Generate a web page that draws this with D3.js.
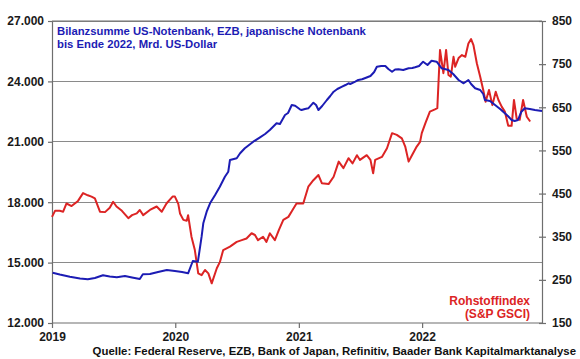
<!DOCTYPE html>
<html><head><meta charset="utf-8">
<script src="https://cdn.jsdelivr.net/npm/d3@7"></script>
<style>
html,body{margin:0;padding:0;background:#fff;}
svg text{font-family:"Liberation Sans",Arial,sans-serif;font-weight:bold;}
</style></head><body>
<svg id="chart" width="580" height="359"></svg>
<script>
// ---- Data ----
const balanceDates = ["2019-01-03","2019-01-24","2019-02-23","2019-03-25","2019-04-17","2019-05-08","2019-06-01","2019-06-21","2019-07-12","2019-08-05","2019-08-26","2019-09-18","2019-09-27","2019-10-18","2019-11-11","2019-12-07","2019-12-31","2020-01-21","2020-02-08","2020-02-22","2020-03-08","2020-03-19","2020-03-24","2020-04-03","2020-04-13","2020-04-28","2020-05-12","2020-05-27","2020-06-06","2020-06-11","2020-07-01","2020-07-11","2020-07-25","2020-08-19","2020-09-08","2020-09-23","2020-10-07","2020-10-27","2020-11-06","2020-11-21","2020-11-30","2020-12-11","2020-12-21","2021-01-04","2021-01-09","2021-01-19","2021-01-29","2021-02-13","2021-02-21","2021-02-28","2021-03-11","2021-03-25","2021-04-04","2021-04-14","2021-04-25","2021-05-09","2021-05-19","2021-05-28","2021-06-02","2021-06-17","2021-06-26","2021-07-07","2021-07-17","2021-08-01","2021-08-12","2021-08-20","2021-09-02","2021-09-14","2021-09-23","2021-10-04","2021-10-13","2021-10-23","2021-11-06","2021-11-22","2021-12-03","2021-12-11","2021-12-23","2022-01-04","2022-01-17","2022-01-29","2022-02-13","2022-02-28","2022-03-20","2022-04-03","2022-04-19","2022-05-04","2022-05-18","2022-05-26","2022-06-07","2022-06-22","2022-07-01","2022-07-06","2022-07-21","2022-08-05","2022-08-20","2022-09-03","2022-09-12","2022-09-23","2022-10-02","2022-10-12","2022-10-22","2022-11-01","2022-11-16","2022-12-01","2022-12-22"];
const balanceValues = [14498,14409,14300,14210,14171,14235,14369,14310,14270,14334,14260,14185,14419,14434,14533,14632,14583,14533,14469,15079,15045,16286,16952,17528,17945,18358,18770,19267,19515,20096,20181,20429,20677,21005,21224,21387,21586,21919,21884,22331,22430,22828,22793,22614,22579,22629,22664,22942,22828,22579,22778,23076,23275,23489,23623,23737,23821,23906,23871,23985,24070,24104,24169,24268,24467,24730,24765,24765,24616,24482,24591,24601,24566,24651,24666,24700,24765,24979,24815,25028,24979,24651,24566,24368,24070,23906,24070,23871,23657,23573,23374,23076,23027,22828,22629,22416,22281,22083,22033,22083,22495,22664,22629,22579,22530];

const gsciDates = ["2019-01-01","2019-01-10","2019-01-24","2019-02-03","2019-02-13","2019-02-28","2019-03-19","2019-04-03","2019-04-17","2019-04-28","2019-05-08","2019-05-23","2019-06-07","2019-06-21","2019-07-01","2019-07-11","2019-07-27","2019-08-15","2019-08-26","2019-09-09","2019-09-18","2019-09-28","2019-10-18","2019-11-07","2019-11-22","2019-12-06","2019-12-24","2019-12-31","2020-01-10","2020-01-15","2020-01-25","2020-02-04","2020-02-08","2020-02-18","2020-02-28","2020-03-09","2020-03-19","2020-03-29","2020-04-08","2020-04-18","2020-05-03","2020-05-12","2020-05-22","2020-06-11","2020-07-01","2020-07-16","2020-07-30","2020-08-14","2020-08-24","2020-09-02","2020-09-17","2020-09-27","2020-10-07","2020-10-22","2020-11-03","2020-11-16","2020-12-01","2020-12-12","2020-12-25","2021-01-04","2021-01-14","2021-01-29","2021-02-13","2021-02-28","2021-03-10","2021-03-30","2021-04-14","2021-04-29","2021-05-13","2021-05-28","2021-06-09","2021-06-22","2021-07-01","2021-07-21","2021-08-01","2021-08-09","2021-08-15","2021-09-04","2021-09-19","2021-10-04","2021-10-18","2021-11-02","2021-11-12","2021-11-22","2021-12-02","2021-12-16","2021-12-26","2021-12-31","2022-01-11","2022-01-24","2022-02-08","2022-02-15","2022-02-23","2022-03-05","2022-03-13","2022-03-20","2022-03-27","2022-04-04","2022-04-09","2022-04-19","2022-04-29","2022-05-09","2022-05-18","2022-05-26","2022-06-02","2022-06-12","2022-06-22","2022-07-01","2022-07-08","2022-07-18","2022-07-28","2022-08-07","2022-08-15","2022-08-25","2022-09-03","2022-09-13","2022-09-23","2022-09-30","2022-10-08","2022-10-17","2022-10-27","2022-11-07","2022-11-17"];
const gsciValues = [396,410,410,408,427,421,433,451,446,443,439,408,407,417,431,420,410,393,400,404,412,400,412,420,408,427,443,443,426,404,389,387,400,350,319,265,261,273,265,242,277,291,319,327,338,342,346,358,354,342,350,338,358,342,366,389,396,410,427,427,427,466,481,493,474,472,489,524,509,532,520,539,528,539,528,497,528,535,555,590,586,578,559,524,539,559,570,590,614,640,645,648,783,729,783,725,721,767,744,764,771,767,798,808,794,752,721,690,663,690,655,686,667,651,640,607,607,667,624,621,667,628,617];

const leftTicks = [12000,15000,18000,21000,24000,27000];
const rightTicks = [150,250,350,450,550,650,750,850];
const yearTicks = ["2019-01-01","2020-01-01","2021-01-01","2022-01-01"];
const titleLines = ["Bilanzsumme US-Notenbank, EZB, japanische Notenbank","bis Ende 2022, Mrd. US-Dollar"];
const gsciLabel = ["Rohstoffindex","(S&P GSCI)"];
const sourceText = "Quelle: Federal Reserve, EZB, Bank of Japan, Refinitiv, Baader Bank Kapitalmarktanalyse";

// ---- Chart ----
const parse = d3.timeParse("%Y-%m-%d");
const svg = d3.select("#chart");
const L = 52, R = 542, T = 21, B = 323;
const x = d3.scaleTime().domain([parse("2019-01-01"), parse("2022-12-22")]).range([L, R]);
const yL = d3.scaleLinear().domain([12000, 27000]).range([B, T]);
const yR = d3.scaleLinear().domain([150, 850]).range([B, T]);
const de = d3.formatLocale({decimal: ",", thousands: ".", grouping: [3], currency: ["", "€"]});
const fmt = de.format(",");

const BLUE = "#1c1cb4", RED = "#dc2424", GRID = "#8a8a8a", AX = "#6e6e6e";

// gridlines
svg.append("g").selectAll("line").data(leftTicks.filter(d => d > 12000)).join("line")
  .attr("x1", L).attr("x2", R).attr("y1", d => yL(d)).attr("y2", d => yL(d))
  .attr("stroke", GRID).attr("stroke-width", 1).attr("shape-rendering", "crispEdges");

// left axis
const gL = svg.append("g").attr("transform", `translate(${L},0)`)
  .call(d3.axisLeft(yL).tickValues(leftTicks).tickFormat(fmt).tickSizeInner(4).tickSizeOuter(0).tickPadding(4));
// right axis
const gR = svg.append("g").attr("transform", `translate(${R},0)`)
  .call(d3.axisRight(yR).tickValues(rightTicks).tickSizeInner(4).tickSizeOuter(0).tickPadding(6));
gR.selectAll(".tick line").attr("x1", -3);
// bottom axis
const gB = svg.append("g").attr("transform", `translate(0,${B})`)
  .call(d3.axisBottom(x).tickValues(yearTicks.map(parse)).tickFormat(d3.timeFormat("%Y")).tickSizeInner(5).tickSizeOuter(0).tickPadding(4));

[gL, gR, gB].forEach(g => {
  g.select(".domain").attr("stroke", AX).attr("stroke-width", 1.2);
  g.selectAll(".tick line").attr("stroke", AX).attr("stroke-width", 1.2);
  g.selectAll(".tick text").attr("fill", "#1a1a1a").style("font-size", "12px").style("font-weight", "bold");
});
gB.select(".domain").attr("d", `M${L},0H${R}`);

// series
const blueData = balanceDates.map((d, i) => ({d: parse(d), v: balanceValues[i]}));
const redData = gsciDates.map((d, i) => ({d: parse(d), v: gsciValues[i]}));
svg.append("path").datum(redData)
  .attr("fill", "none").attr("stroke", RED).attr("stroke-width", 2).attr("stroke-linejoin", "round")
  .attr("d", d3.line().x(p => x(p.d)).y(p => yR(p.v)));
svg.append("path").datum(blueData)
  .attr("fill", "none").attr("stroke", BLUE).attr("stroke-width", 2).attr("stroke-linejoin", "round")
  .attr("d", d3.line().x(p => x(p.d)).y(p => yL(p.v)));

// top border
svg.append("line").attr("x1", L).attr("x2", R).attr("y1", T).attr("y2", T)
  .attr("stroke", AX).attr("stroke-width", 1.2);

// texts
svg.append("g").selectAll("text").data(titleLines).join("text")
  .attr("x", 57).attr("y", (d, i) => 35 + i * 13).attr("fill", BLUE)
  .style("font-size", "11.3px").text(d => d);
svg.append("g").selectAll("text").data(gsciLabel).join("text")
  .attr("x", 530).attr("y", (d, i) => 305 + i * 13).attr("text-anchor", "end").attr("fill", RED)
  .style("font-size", "12px").text(d => d);
svg.append("text").attr("x", 576).attr("y", 355).attr("text-anchor", "end").attr("fill", "#111")
  .style("font-size", "11.4px").text(sourceText);
</script>
</body></html>
